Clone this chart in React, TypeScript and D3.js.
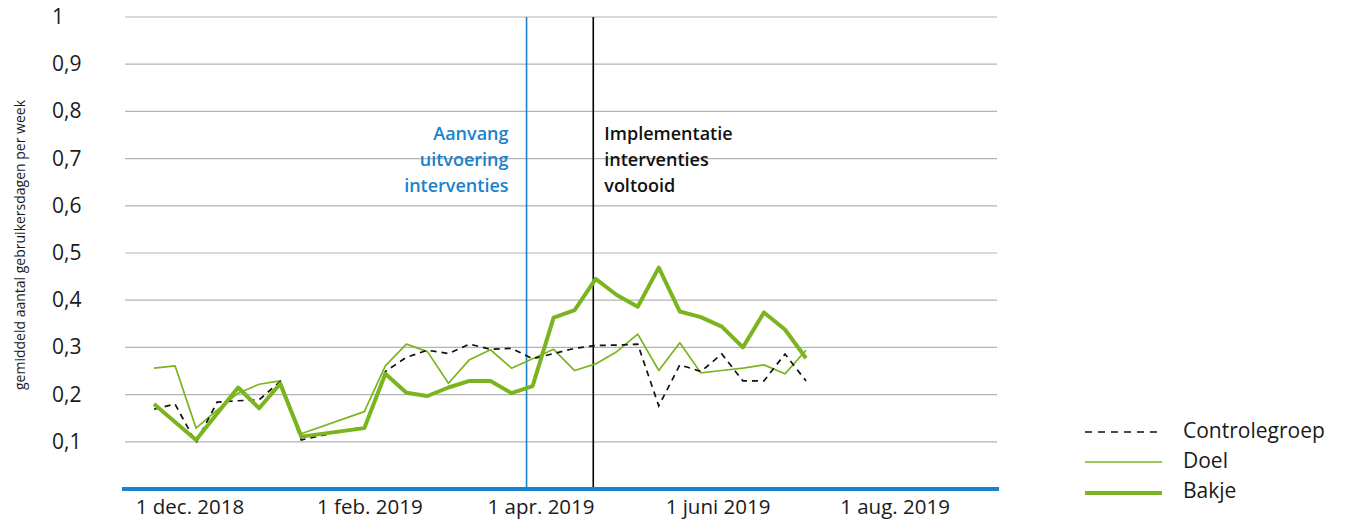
import React from 'react';
import * as d3 from 'd3';

// weekly values (index = week number in the series), null = no measurement
const controlegroep = [0.169, 0.18, 0.098, 0.184, 0.187, 0.189, 0.228, 0.104, null, null, 0.132, 0.249, 0.279, 0.294, 0.287, 0.307, 0.296, 0.298, 0.276, 0.287, 0.298, 0.304, 0.305, 0.307, 0.176, 0.263, 0.249, 0.286, 0.229, 0.229, 0.286, 0.229];
const doel = [0.256, 0.261, 0.129, 0.167, 0.203, 0.222, 0.229, 0.117, null, null, 0.164, 0.261, 0.307, 0.291, 0.224, 0.274, 0.295, 0.256, 0.276, 0.296, 0.251, 0.265, 0.291, 0.328, 0.251, 0.31, 0.246, 0.251, 0.256, 0.263, 0.244, 0.294];
const bakje = [0.18, 0.142, 0.104, 0.16, 0.215, 0.171, 0.223, 0.111, null, null, 0.129, 0.244, 0.204, 0.197, 0.215, 0.229, 0.229, 0.203, 0.218, 0.363, 0.379, 0.445, 0.411, 0.386, 0.469, 0.376, 0.364, 0.344, 0.3, 0.374, 0.338, 0.277];

const yTicks = [0.1, 0.2, 0.3, 0.4, 0.5, 0.6, 0.7, 0.8, 0.9, 1];
const xTickDates = ['2018-12-01', '2019-02-01', '2019-04-01', '2019-06-01', '2019-08-01'];
const xTickLabels = ['1 dec. 2018', '1 feb. 2019', '1 apr. 2019', '1 juni 2019', '1 aug. 2019'];
const startDate = '2019-03-27';
const doneDate = '2019-04-19';

const GREEN = '#7ab51f';
const BLUE = '#1a82cc';
const FONT = '"Open Sans", "Noto Sans", sans-serif';

const parse = d3.timeParse('%Y-%m-%d');

const App = () => {
  const width = 1350;
  const height = 521;
  const left = 125;
  const right = 997;
  const top = 17;
  const bottom = 489;

  const y = d3.scaleLinear().domain([0, 1]).range([bottom, top]);
  const xWeek = d3.scaleLinear().domain([0, bakje.length - 1]).range([154, 806]);
  const xTime = d3
    .scaleTime()
    .domain([parse('2018-12-01'), parse('2019-08-01')])
    .range([190, 895]);

  const makePath = (values) => {
    const pts = values
      .map((v, i) => ({ i, v }))
      .filter((d) => d.v != null);
    return d3
      .line()
      .x((d) => xWeek(d.i))
      .y((d) => y(d.v))(pts);
  };

  const fmt = (v) => (v === 1 ? '1' : d3.format('.1f')(v).replace('.', ','));

  const xs = xTime(parse(startDate));
  const xd = xTime(parse(doneDate));

  return (
    <svg
      width={width}
      height={height}
      style={{ position: 'absolute', left: 0, top: 0, fontFamily: FONT, background: '#fff' }}
    >
      {/* gridlines */}
      {yTicks.map((t) => (
        <line key={t} x1={left} x2={right} y1={y(t)} y2={y(t)} stroke="#b3b3b3" strokeWidth={1.2} />
      ))}
      {/* y tick labels */}
      {yTicks.map((t) => (
        <text key={'l' + t} x={52} y={y(t) + 7} fontSize={21} fill="#1a1a1a">
          {fmt(t)}
        </text>
      ))}
      <text
        transform={`translate(25, 245) rotate(-90)`}
        textAnchor="middle"
        fontSize={14}
        fill="#1a1a1a"
      >
        gemiddeld aantal gebruikersdagen per week
      </text>

      {/* markers */}
      <line x1={xs} x2={xs} y1={top} y2={bottom} stroke={BLUE} strokeWidth={1.6} />
      <line x1={xd} x2={xd} y1={top} y2={bottom} stroke="#000" strokeWidth={1.6} />
      <g fontSize={18} fontWeight={600}>
        {['Aanvang', 'uitvoering', 'interventies'].map((s, i) => (
          <text key={s} x={xs - 18} y={140 + i * 26} textAnchor="end" fill={BLUE}>
            {s}
          </text>
        ))}
        {['Implementatie', 'interventies', 'voltooid'].map((s, i) => (
          <text key={s} x={xd + 11} y={140 + i * 26} fill="#111">
            {s}
          </text>
        ))}
      </g>

      {/* series */}
      <path d={makePath(doel)} fill="none" stroke={GREEN} strokeWidth={1.7} strokeLinejoin="round" />
      <path
        d={makePath(controlegroep)}
        fill="none"
        stroke="#111"
        strokeWidth={1.7}
        strokeDasharray="6,5"
      />
      <path d={makePath(bakje)} fill="none" stroke={GREEN} strokeWidth={4} strokeLinejoin="round" />

      {/* x axis */}
      <line x1={122} x2={999} y1={bottom} y2={bottom} stroke={BLUE} strokeWidth={4} />
      {xTickDates.map((d, i) => (
        <text key={d} x={xTime(parse(d))} y={514} textAnchor="middle" fontSize={20.5} fill="#1a1a1a">
          {xTickLabels[i]}
        </text>
      ))}

      {/* legend */}
      <g fontSize={21} fill="#1a1a1a">
        <line x1={1085} x2={1162} y1={432} y2={432} stroke="#111" strokeWidth={1.7} strokeDasharray="7,6" />
        <text x={1183} y={438}>Controlegroep</text>
        <line x1={1085} x2={1162} y1={462} y2={462} stroke={GREEN} strokeWidth={1.7} />
        <text x={1183} y={468}>Doel</text>
        <line x1={1085} x2={1162} y1={493} y2={493} stroke={GREEN} strokeWidth={4} />
        <text x={1183} y={498}>Bakje</text>
      </g>
    </svg>
  );
};

export default App;
